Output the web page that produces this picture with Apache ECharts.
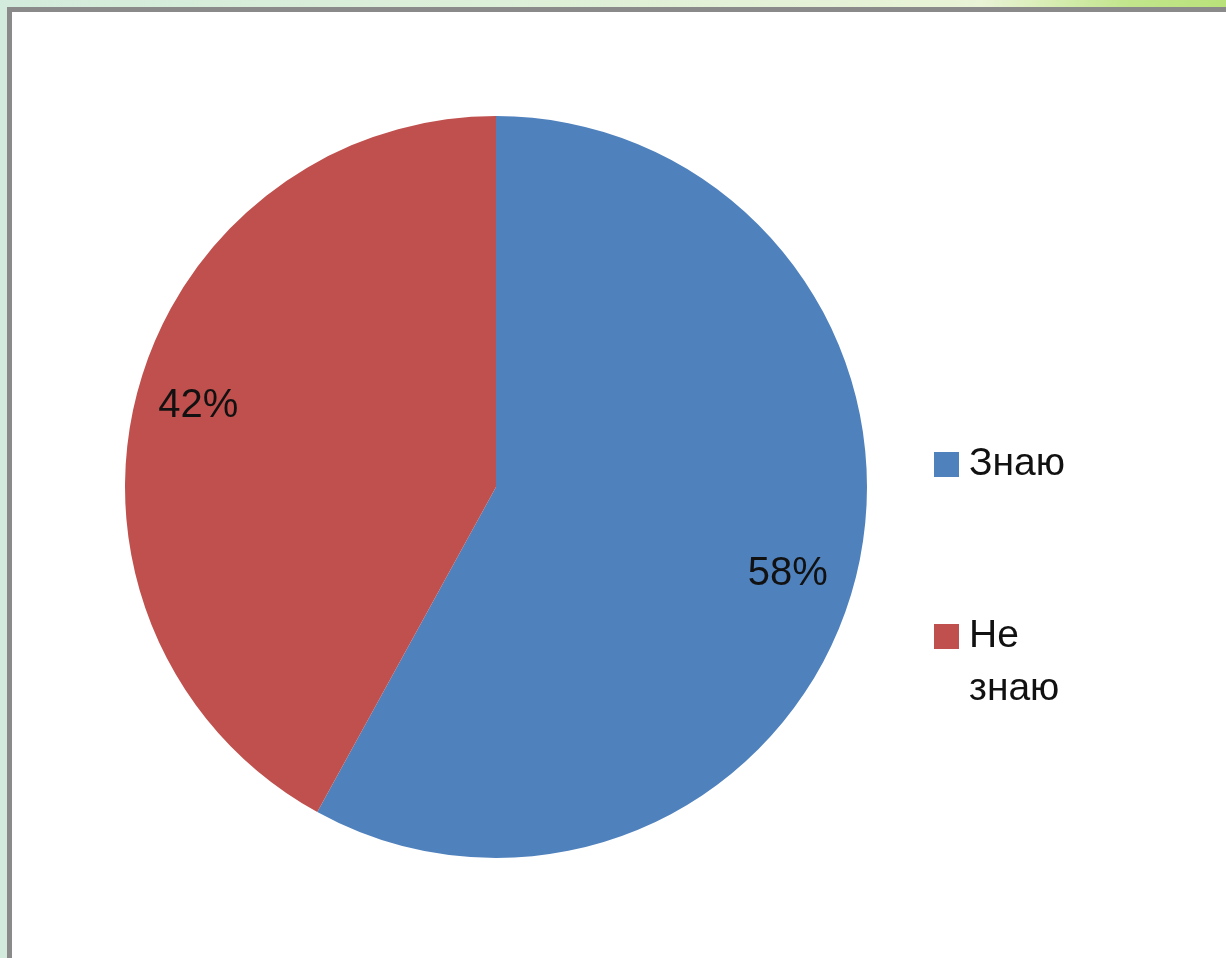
<!DOCTYPE html>
<html>
<head>
<meta charset="utf-8">
<script src="https://cdn.jsdelivr.net/npm/echarts@6/dist/echarts.min.js"></script>
<style>
  html, body { margin: 0; padding: 0; width: 1226px; height: 958px; overflow: hidden; }
  body { background: linear-gradient(to right, #d3ebdc 0%, #dcefd8 40%, #e9f3d6 80%, #c2e58c 92%, #b9e27a 100%); position: relative; }
  #frame { position: absolute; left: 7px; top: 7px; width: 1240px; height: 980px; background: #fff;
           border-left: 5px solid #8a8a8a; border-top: 5px solid #8a8a8a; }
  #chart { position: absolute; left: 0; top: 0; width: 1226px; height: 958px; }
</style>
</head>
<body>
<div id="frame"></div>
<div id="chart"></div>
<script>
const categories = ['Знаю', 'Не знаю'];
const values = [58, 42];
const colors = ['#4F81BD', '#C0504D'];

const pieData = categories.map((name, i) => ({ name: name, value: values[i], itemStyle: { color: colors[i] } }));
const labelData = categories.map((name, i) => ({ name: name, value: values[i] }));

const chart = echarts.init(document.getElementById('chart'));
chart.setOption({
  backgroundColor: 'transparent',
  animation: false,
  legend: {
    orient: 'vertical',
    left: 934,
    top: 438,
    padding: 0,
    itemWidth: 25,
    itemHeight: 25,
    itemGap: 66,
    icon: 'rect',
    data: categories,
    selectedMode: false,
    formatter: function (name) {
      return name === 'Не знаю' ? ' \nНе\nзнаю' : name;
    },
    textStyle: { fontFamily: 'Liberation Sans', fontSize: 39, lineHeight: 53, color: '#111', padding: [0, 0, 0, 5] }
  },
  series: [
    {
      type: 'pie',
      center: [496, 487],
      radius: 371,
      startAngle: 90,
      clockwise: true,
      label: { show: false },
      labelLine: { show: false },
      emphasis: { disabled: true },
      itemStyle: { borderWidth: 0 },
      data: pieData
    },
    {
      type: 'pie',
      center: [493, 490],
      radius: [236, 371],
      startAngle: 88.5,
      clockwise: true,
      silent: true,
      emphasis: { disabled: true },
      itemStyle: { color: 'transparent', borderWidth: 0 },
      label: {
        show: true,
        position: 'inside',
        formatter: '{d}%',
        fontFamily: 'Liberation Sans',
        fontSize: 40,
        color: '#111'
      },
      labelLine: { show: false },
      data: labelData
    }
  ]
});
</script>
</body>
</html>
